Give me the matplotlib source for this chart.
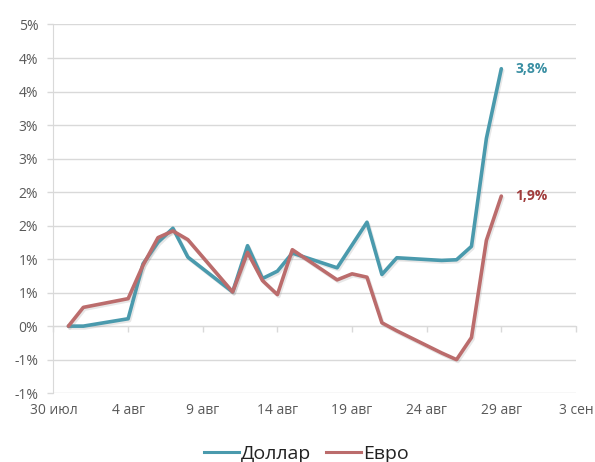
import numpy as np
import matplotlib
matplotlib.use('Agg')
import matplotlib.pyplot as plt
import matplotlib.patheffects as pe
from matplotlib.lines import Line2D
from matplotlib.ticker import FuncFormatter, MultipleLocator

plt.rcParams['font.family'] = ['Open Sans', 'DejaVu Sans']

# Trading days and percentage change vs. 31 July
dates = ['2014-07-31', '2014-08-01', '2014-08-04', '2014-08-05', '2014-08-06',
         '2014-08-07', '2014-08-08', '2014-08-11', '2014-08-12', '2014-08-13',
         '2014-08-14', '2014-08-15', '2014-08-18', '2014-08-19', '2014-08-20',
         '2014-08-21', '2014-08-22', '2014-08-25', '2014-08-26', '2014-08-27',
         '2014-08-28', '2014-08-29']
dollar = [0.00, 0.00, 0.11, 0.93, 1.25, 1.46, 1.03, 0.51, 1.20, 0.71, 0.82,
          1.09, 0.87, 1.21, 1.55, 0.77, 1.02, 0.98, 0.99, 1.19, 2.80, 3.84]
euro = [0.00, 0.28, 0.41, 0.91, 1.32, 1.42, 1.29, 0.51, 1.10, 0.68, 0.47,
        1.14, 0.69, 0.78, 0.73, 0.05, -0.07, -0.40, -0.50, -0.17, 1.28, 1.94]

tick_dates = ['2014-07-30', '2014-08-04', '2014-08-09', '2014-08-14',
              '2014-08-19', '2014-08-24', '2014-08-29', '2014-09-03']
tick_labels = ['30 июл', '4 авг', '9 авг', '14 авг', '19 авг', '24 авг', '29 авг', '3 сен']

series_names = ['Доллар', 'Евро']
end_labels = ['3,8%', '1,9%']

teal = '#4a9aad'
red = '#bb6c6c'
teal_txt = '#3a8fa3'
red_txt = '#a03c3c'
grid_c = '#d9d9d9'
text_c = '#595959'


def pct_label(v, pos):
    # round half away from zero, like the original spreadsheet
    r = int(np.floor(abs(v) + 0.5 + 1e-9)) * (1 if v >= 0 else -1)
    return f'{r}%'


x = np.array(dates, dtype='datetime64[D]')
xt = np.array(tick_dates, dtype='datetime64[D]')

fig = plt.figure(figsize=(5.95, 4.62), dpi=100)
ax = fig.add_axes([0.0899, 0.149, 0.968 - 0.0899, 0.947 - 0.149])

shadow = [pe.SimpleLineShadow(offset=(1.0, -1.3), shadow_color='#888888', alpha=0.2),
          pe.Normal()]

ax.plot(x, dollar, color=teal, lw=2.6, solid_capstyle='round',
        path_effects=shadow, zorder=3)
ax.plot(x, euro, color=red, lw=2.6, solid_capstyle='round',
        path_effects=shadow, zorder=3)

ax.annotate(end_labels[0], (x[-1], dollar[-1]), xytext=(10, 0), textcoords='offset points',
            color=teal_txt, fontsize=10, fontweight='bold', va='center', ha='left')
ax.annotate(end_labels[1], (x[-1], euro[-1]), xytext=(10, 0), textcoords='offset points',
            color=red_txt, fontsize=10, fontweight='bold', va='center', ha='left')

ax.set_ylim(-1.0, 4.5)
ax.set_xlim(xt[0], xt[-1])
ax.yaxis.set_major_locator(MultipleLocator(0.5))
ax.yaxis.set_major_formatter(FuncFormatter(pct_label))
ax.grid(axis='y', color=grid_c, lw=1)
ax.set_axisbelow(True)

for s in ['top', 'right']:
    ax.spines[s].set_visible(False)
ax.spines['left'].set_color(grid_c)
ax.spines['bottom'].set_color(grid_c)
ax.spines['bottom'].set_position(('data', 0))

ax.tick_params(axis='y', colors=grid_c, labelcolor=text_c, labelsize=10,
               length=4, width=1, pad=7)
ax.set_xticks(xt)
ax.tick_params(axis='x', colors=grid_c, length=4.5, width=1, labelbottom=False)

sec = ax.secondary_xaxis('bottom')
sec.set_xticks(xt)
sec.set_xticklabels(tick_labels)
sec.spines['bottom'].set_visible(False)
sec.tick_params(axis='x', length=0, labelsize=10, labelcolor=text_c, pad=7)

handles = [Line2D([], [], color=teal, lw=2.2), Line2D([], [], color=red, lw=2.2)]
fig.legend(handles, series_names, loc='center', bbox_to_anchor=(0.515, 0.018), ncol=2,
           frameon=False, fontsize=14, handlelength=1.8, handletextpad=0.1,
           columnspacing=0.8, labelcolor='#222222')

fig.savefig('out.png', dpi=100)
